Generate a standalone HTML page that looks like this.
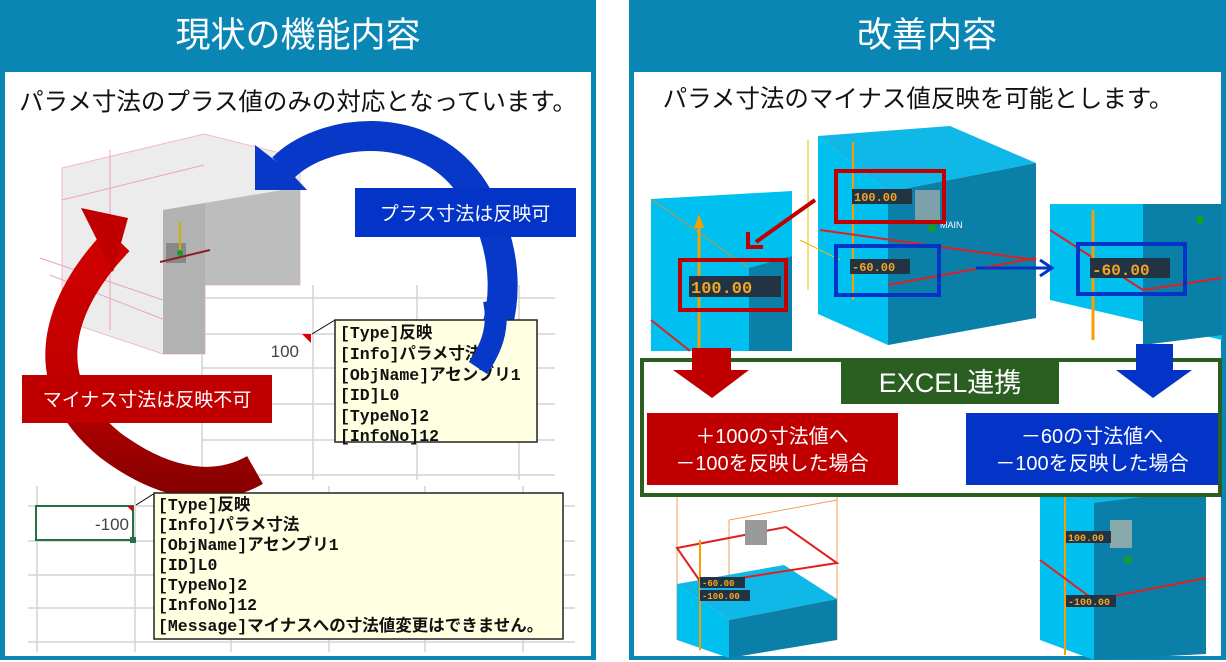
<!DOCTYPE html>
<html><head><meta charset="utf-8"><style>
html,body{margin:0;padding:0;background:#fff;width:1226px;height:662px;overflow:hidden}
svg{display:block}
.jp{font-family:"Liberation Sans","Noto Sans CJK JP",sans-serif}
.mono{font-family:"Liberation Mono","Noto Sans CJK JP",monospace;font-weight:bold;font-size:16.5px;fill:#111}
.lbl{font-family:"Liberation Mono",monospace;font-weight:bold;fill:#f5a623}
</style></head><body>
<svg width="1226" height="662" viewBox="0 0 1226 662" xmlns="http://www.w3.org/2000/svg">
<defs>
<linearGradient id="rg" x1="0" y1="0" x2="0" y2="1"><stop offset="0" stop-color="#d00000"/><stop offset="0.6" stop-color="#c00000"/><stop offset="1" stop-color="#8a0000"/></linearGradient>
</defs>
<rect x="0" y="0" width="596" height="660" fill="#0a86b4"/>
<rect x="5" y="72" width="586" height="584" fill="#fff"/>
<rect x="629" y="0" width="597" height="660" fill="#0a86b4"/>
<rect x="634" y="72" width="587" height="584" fill="#fff"/>
<text x="298" y="47" text-anchor="middle" class="jp" font-size="35" fill="#fff">現状の機能内容</text>
<text x="927" y="47" text-anchor="middle" class="jp" font-size="35" fill="#fff">改善内容</text>
<text x="298" y="110" text-anchor="middle" class="jp" font-size="24.5" fill="#111">パラメ寸法のプラス値のみの対応となっています。</text>
<text x="918" y="107" text-anchor="middle" class="jp" font-size="24.5" fill="#111">パラメ寸法のマイナス値反映を可能とします。</text>

<g stroke="#d4d4d4" stroke-width="1.5">
<line x1="202" y1="298" x2="555" y2="298"/><line x1="202" y1="334" x2="555" y2="334"/><line x1="202" y1="368" x2="555" y2="368"/><line x1="202" y1="404" x2="555" y2="404"/><line x1="202" y1="440" x2="555" y2="440"/><line x1="202" y1="475" x2="555" y2="475"/>
<line x1="202" y1="285" x2="202" y2="480"/><line x1="313" y1="285" x2="313" y2="480"/><line x1="417" y1="285" x2="417" y2="480"/><line x1="519" y1="285" x2="519" y2="480"/>
<line x1="28" y1="506" x2="575" y2="506"/><line x1="28" y1="541" x2="575" y2="541"/><line x1="28" y1="575" x2="575" y2="575"/><line x1="28" y1="608" x2="575" y2="608"/><line x1="28" y1="642" x2="575" y2="642"/>
<line x1="37" y1="486" x2="37" y2="652"/><line x1="135" y1="486" x2="135" y2="652"/><line x1="231" y1="486" x2="231" y2="652"/><line x1="329" y1="486" x2="329" y2="652"/><line x1="425" y1="486" x2="425" y2="652"/><line x1="523" y1="486" x2="523" y2="652"/>
</g>
<polygon points="62,168 204,134 300,158 300,285 205,285 205,354 163,354 62,320" fill="#ececec" stroke="#f4b8d0" stroke-width="1"/>
<polygon points="163,210 300,187 300,285 205,285 205,354 163,354" fill="#bdbdbd"/>
<polygon points="163,210 205,203 205,354 163,354" fill="#aaaaaa" opacity="0.6"/>
<g stroke="#f2a0c0" stroke-width="1" fill="none">
<line x1="40" y1="258" x2="163" y2="300"/><line x1="50" y1="275" x2="165" y2="320"/><line x1="62" y1="200" x2="204" y2="165"/><line x1="110" y1="150" x2="110" y2="330"/>
</g>
<rect x="166" y="243" width="20" height="20" fill="#888"/>
<line x1="180" y1="222" x2="180" y2="253" stroke="#c8b400" stroke-width="2"/>
<line x1="160" y1="262" x2="210" y2="250" stroke="#8b2020" stroke-width="2"/>
<circle cx="180" cy="253" r="3" fill="#1a9a2a"/>
<path d="M283,168 C320,130 420,115 470,185 C515,250 508,320 482,362" fill="none" stroke="#0838c8" stroke-width="30"/>
<polygon points="255,145 255,190 307,190 290,172 268,155" fill="#0838c8"/>
<path d="M118,240 C60,300 30,380 110,445 C170,490 220,490 255,470" fill="none" stroke="url(#rg)" stroke-width="32"/>
<polygon points="81,208 128,218 113,272" fill="#c00000"/>
<rect x="355" y="188" width="221" height="49" fill="#0433c8"/>
<text x="465" y="220" text-anchor="middle" class="jp" font-size="19" fill="#fff">プラス寸法は反映可</text>
<rect x="22" y="375" width="250" height="48" fill="#c00000"/>
<text x="147" y="406" text-anchor="middle" class="jp" font-size="19" fill="#fff">マイナス寸法は反映不可</text>
<text x="299" y="357" text-anchor="end" class="jp" font-size="17" fill="#444">100</text>
<polygon points="302,334 311,334 311,343" fill="#e00000"/>
<line x1="312" y1="334" x2="335" y2="320" stroke="#000"/>
<rect x="335" y="320" width="202" height="122" fill="#ffffe1" stroke="#222" stroke-width="1.5"/>
<text class="mono"><tspan x="340" y="338">[Type]反映</tspan><tspan x="340" y="359">[Info]パラメ寸法</tspan><tspan x="340" y="380">[ObjName]アセンブリ1</tspan><tspan x="340" y="400">[ID]L0</tspan><tspan x="340" y="421">[TypeNo]2</tspan><tspan x="340" y="441">[InfoNo]12</tspan></text>
<path d="M494,300 C500,330 490,350 478,368" fill="none" stroke="#0838c8" stroke-width="22"/>
<rect x="36" y="506" width="97" height="34" fill="#fff" stroke="#217346" stroke-width="2"/>
<rect x="130" y="537" width="6" height="6" fill="#217346"/>
<text x="129" y="530" text-anchor="end" class="jp" font-size="17" fill="#444">-100</text>
<polygon points="127,506 133,506 133,512" fill="#e00000"/>
<line x1="136" y1="505" x2="155" y2="493" stroke="#000"/>
<rect x="154" y="493" width="409" height="146" fill="#ffffe1" stroke="#222" stroke-width="1.5"/>
<text class="mono"><tspan x="158" y="510">[Type]反映</tspan><tspan x="158" y="530">[Info]パラメ寸法</tspan><tspan x="158" y="550">[ObjName]アセンブリ1</tspan><tspan x="158" y="570">[ID]L0</tspan><tspan x="158" y="590">[TypeNo]2</tspan><tspan x="158" y="610">[InfoNo]12</tspan><tspan x="158" y="631">[Message]マイナスへの寸法値変更はできません。</tspan></text>

<polygon points="818,136 950,126 1036,163 888,192" fill="#10b8e8"/>
<polygon points="818,136 888,192 888,345 818,314" fill="#00c0f0"/>
<polygon points="888,192 1036,163 1036,318 888,345" fill="#0a7fa8"/>
<g stroke="#e8c000" stroke-width="1" fill="none"><line x1="808" y1="140" x2="808" y2="290"/><line x1="800" y1="240" x2="840" y2="260"/></g>
<line x1="853" y1="142" x2="853" y2="300" stroke="#f5a000" stroke-width="2"/>
<line x1="820" y1="230" x2="1036" y2="260" stroke="#e02020" stroke-width="2"/>
<line x1="888" y1="285" x2="1036" y2="258" stroke="#e02020" stroke-width="2"/>
<rect x="915" y="190" width="25" height="30" fill="#9aa" opacity="0.8"/>
<circle cx="932" cy="228" r="4" fill="#1a9a2a"/>
<text x="940" y="228" font-family="Liberation Sans" font-size="9" fill="#fff">MAIN</text>
<rect x="836" y="171" width="108" height="51" fill="none" stroke="#c00000" stroke-width="4"/>
<rect x="852" y="189" width="60" height="15" fill="#234"/>
<text x="854" y="201" class="lbl" font-size="12">100.00</text>
<rect x="836" y="246" width="103" height="49" fill="none" stroke="#0433c8" stroke-width="4"/>
<rect x="850" y="259" width="60" height="15" fill="#234"/>
<text x="852" y="271" class="lbl" font-size="12">-60.00</text>
<polygon points="651,199 792,191 792,351 651,351" fill="#00c0f0"/>
<polygon points="749,268 792,256 792,351 749,351" fill="#0a7fa8"/>
<line x1="651" y1="199" x2="749" y2="268" stroke="#d09030" stroke-width="1"/>
<line x1="651" y1="320" x2="690" y2="351" stroke="#e02020" stroke-width="2"/>
<line x1="699" y1="220" x2="699" y2="351" stroke="#f5a000" stroke-width="3"/>
<polygon points="699,214 694,228 704,228" fill="#f5a000"/>
<rect x="680" y="260" width="106" height="50" fill="none" stroke="#c00000" stroke-width="4"/>
<rect x="689" y="276" width="92" height="21" fill="#234"/>
<text x="691" y="293" class="lbl" font-size="17">100.00</text>
<polygon points="1050,204 1222,204 1222,340 1050,300" fill="#00c0f0"/>
<polygon points="1143,204 1222,204 1222,335 1143,345" fill="#0a7fa8"/>
<line x1="1050" y1="230" x2="1143" y2="290" stroke="#e02020" stroke-width="2"/>
<line x1="1143" y1="290" x2="1222" y2="278" stroke="#e02020" stroke-width="2"/>
<line x1="1093" y1="210" x2="1093" y2="340" stroke="#f5a000" stroke-width="3"/>
<circle cx="1200" cy="220" r="4" fill="#1a9a2a"/>
<rect x="1078" y="244" width="107" height="50" fill="none" stroke="#0433c8" stroke-width="4"/>
<rect x="1090" y="258" width="80" height="20" fill="#234"/>
<text x="1092" y="275" class="lbl" font-size="16">-60.00</text>
<line x1="815" y1="200" x2="756" y2="242" stroke="#c00000" stroke-width="4"/>
<polyline points="748,232 748,247 763,247" fill="none" stroke="#c00000" stroke-width="4"/>
<line x1="976" y1="268" x2="1050" y2="268" stroke="#0433c8" stroke-width="3"/>
<polyline points="1040,260 1052,268 1040,276" fill="none" stroke="#0433c8" stroke-width="3"/>
<g stroke="#f0a060" stroke-width="1" fill="none"><polyline points="677,485 677,640"/><polyline points="837,485 837,640"/><line x1="729" y1="520" x2="837" y2="500"/><line x1="729" y1="520" x2="729" y2="620"/></g>
<polygon points="677,584 784,565 837,599 729,620" fill="#10b8e8"/>
<polygon points="677,584 729,620 729,658 677,640" fill="#00c0f0"/>
<polygon points="729,620 837,599 837,640 729,658" fill="#0a7fa8"/>
<polygon points="677,548 786,527 837,563 702,584" fill="none" stroke="#e02020" stroke-width="2"/>
<line x1="700" y1="540" x2="700" y2="650" stroke="#f5a000" stroke-width="2"/>
<rect x="745" y="520" width="22" height="25" fill="#999"/>
<rect x="700" y="577" width="45" height="11" fill="#234"/><text x="702" y="586" class="lbl" font-size="9" fill="#f88">-60.00</text>
<rect x="700" y="590" width="50" height="11" fill="#234"/><text x="702" y="599" class="lbl" font-size="9">-100.00</text>
<polygon points="1040,489 1206,489 1206,503 1094,503" fill="#10b8e8"/>
<polygon points="1040,489 1094,503 1094,660 1040,640" fill="#00c0f0"/>
<polygon points="1094,503 1206,489 1206,654 1094,660" fill="#0a7fa8"/>
<line x1="1065" y1="495" x2="1065" y2="655" stroke="#f5a000" stroke-width="2"/>
<line x1="1040" y1="560" x2="1094" y2="600" stroke="#e02020" stroke-width="2"/>
<line x1="1094" y1="600" x2="1206" y2="578" stroke="#e02020" stroke-width="2"/>
<rect x="1110" y="520" width="22" height="28" fill="#8aa"/>
<circle cx="1128" cy="560" r="4" fill="#1a9a2a"/>
<rect x="1066" y="531" width="45" height="12" fill="#234"/><text x="1068" y="541" class="lbl" font-size="10" fill="#f88">100.00</text>
<rect x="1066" y="595" width="50" height="12" fill="#234"/><text x="1068" y="605" class="lbl" font-size="10">-100.00</text>
<rect x="642" y="360" width="578" height="135" fill="#fff" stroke="#2b5f22" stroke-width="4"/>
<rect x="841" y="360" width="218" height="44" fill="#2b5f22"/>
<text x="950" y="392" text-anchor="middle" class="jp" font-size="27" fill="#fff">EXCEL連携</text>
<polygon points="692,348 731,348 731,370 749,370 712,398 673,370 692,370" fill="#c00000"/>
<polygon points="1136,344 1173,344 1173,370 1192,370 1153,398 1116,370 1136,370" fill="#0433c8"/>
<rect x="647" y="413" width="251" height="72" fill="#c00000"/>
<text class="jp" font-size="20" fill="#fff" text-anchor="middle"><tspan x="772" y="443">＋100の寸法値へ</tspan><tspan x="772" y="470">－100を反映した場合</tspan></text>
<rect x="966" y="413" width="252" height="72" fill="#0433c8"/>
<text class="jp" font-size="20" fill="#fff" text-anchor="middle"><tspan x="1092" y="443">－60の寸法値へ</tspan><tspan x="1092" y="470">－100を反映した場合</tspan></text>
</svg>
</body></html>
